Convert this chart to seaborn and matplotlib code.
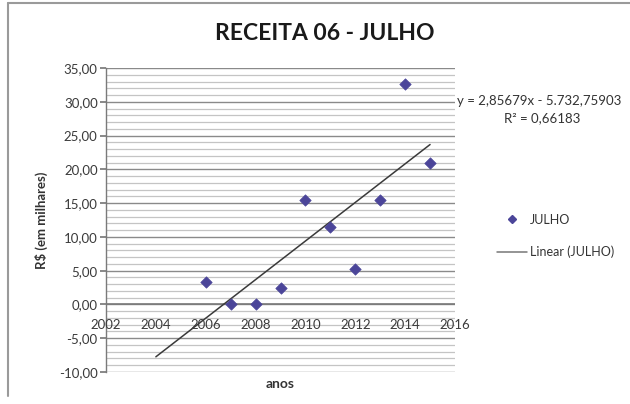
import numpy as np
import pandas as pd
import matplotlib
matplotlib.use("Agg")
import matplotlib.pyplot as plt
from matplotlib.ticker import FuncFormatter, MultipleLocator
from matplotlib.lines import Line2D
import seaborn as sns

# Monthly revenue for July, by year (R$ thousands)
anos = [2006, 2007, 2008, 2009, 2010, 2011, 2012, 2013, 2014, 2015]
julho = [3.3, 0.0, 0.0, 2.4, 15.4, 11.5, 5.3, 15.4, 32.7, 21.0]

# Linear trendline coefficients as shown in the equation label
slope = 2.85679
intercept = -5732.75903
r2 = 0.66183
trend_years = [2004, 2015]

sns.set_theme(style="white")
plt.rcParams["font.family"] = ["Lato", "DejaVu Sans"]

fig = plt.figure(figsize=(6.3, 4.04), dpi=100)
ax = fig.add_axes([106 / 630, 1 - 372 / 404, (455 - 106) / 630, (372 - 68) / 404])

df = pd.DataFrame({"ano": anos, "valor": julho})
trend = pd.DataFrame({"ano": trend_years,
                      "valor": [slope * x + intercept for x in trend_years]})

ax.set_xlim(2002, 2016)
ax.set_ylim(-10, 35)

# gridlines
ax.yaxis.set_major_locator(MultipleLocator(5))
ax.yaxis.set_minor_locator(MultipleLocator(1))
ax.xaxis.set_major_locator(MultipleLocator(2))
ax.grid(which="major", axis="y", color="#8a8a8a", lw=1.0)
ax.grid(which="minor", axis="y", color="#c4c4c4", lw=0.9)
ax.set_axisbelow(True)

sns.lineplot(data=trend, x="ano", y="valor", ax=ax, color="#3a3a3a", lw=1.1,
             legend=False, zorder=3)
sns.scatterplot(data=df, x="ano", y="valor", ax=ax, marker="D", s=34,
                color="#4b4599", edgecolor="#4b4599", legend=False, zorder=4)

for s in ["top", "right", "bottom"]:
    ax.spines[s].set_visible(False)
ax.spines["left"].set_color("#7a7a7a")
ax.spines["left"].set_linewidth(1.0)
ax.axhline(0, color="#7a7a7a", lw=1.2, zorder=2)

fmt = FuncFormatter(lambda v, p: f"{v:.2f}".replace(".", ","))
ax.yaxis.set_major_formatter(fmt)
ax.tick_params(axis="y", which="major", length=4, left=True, color="#7a7a7a",
               labelsize=9.5, labelcolor="#3a3a3a", pad=2)
ax.tick_params(axis="y", which="minor", length=0)
ax.tick_params(axis="x", length=0, labelsize=9.5, labelcolor="#3a3a3a")
# x tick labels sit just below the zero line
ax.set_xticks(range(2002, 2017, 2))
ax.set_xticklabels([])
for yr in range(2002, 2017, 2):
    ax.text(yr, -3.1, str(yr), ha="center", va="center", fontsize=9.5,
            color="#3a3a3a", clip_on=False)

ax.set_xlabel("anos", fontsize=10, fontweight="bold", color="#333333", labelpad=1)
ax.set_ylabel("R$ (em milhares)", fontsize=9.5, fontweight="bold", color="#333333",
              labelpad=8)

fig.text(325 / 630, 1 - 34 / 404, "RECEITA 06 - JULHO", ha="center", va="center",
         fontsize=16.5, fontweight="bold", color="#1a1a1a")

eq = f"y = {slope:.5f}x - {abs(intercept):,.5f}".replace(",", "X").replace(".", ",").replace("X", ".")
fig.text(539 / 630, 1 - 101 / 404, eq, ha="center", va="center", fontsize=9.5, color="#333333")
fig.text(542 / 630, 1 - 118 / 404, f"R² = {r2:.5f}".replace(".", ","), ha="center",
         va="center", fontsize=9.5, color="#333333")

handles = [
    Line2D([], [], marker="D", ls="none", color="#4b4599", markersize=4.5),
    Line2D([], [], color="#777777", lw=1.1),
]
fig.legend(handles, ["JULHO", "Linear (JULHO)"], loc="center left",
           bbox_to_anchor=(486 / 630, 1 - 236 / 404), frameon=False, fontsize=9,
           labelspacing=1.6, handlelength=2.4, handletextpad=0.25,
           labelcolor="#333333")

# outer chart frame (top and left edges)
fig.add_artist(Line2D([8 / 630, 1], [1 - 3 / 404, 1 - 3 / 404],
                      transform=fig.transFigure, color="#9a9a9a", lw=1.5))
fig.add_artist(Line2D([8 / 630, 8 / 630], [1 - 3 / 404, 1 - 396 / 404],
                      transform=fig.transFigure, color="#9a9a9a", lw=1.5))

fig.savefig("out.png", dpi=100)
